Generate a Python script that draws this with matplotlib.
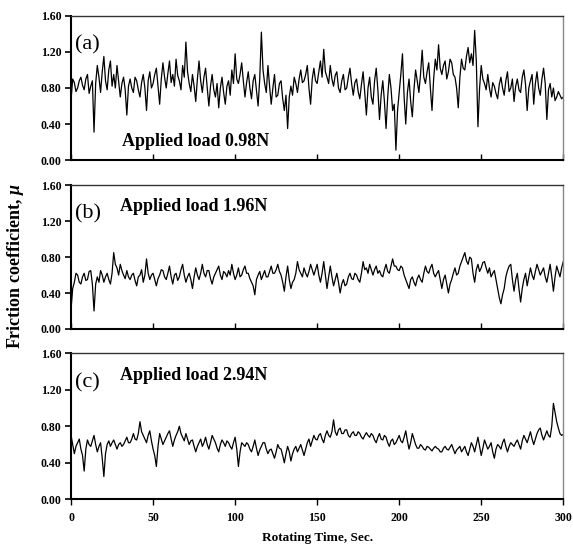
import numpy as np
import matplotlib.pyplot as plt

# friction coefficient traces, read at about 1 s steps from the figure
mu_a = [0.67, 0.90, 0.86, 0.76, 0.80, 0.88, 0.92, 0.83, 0.78, 0.90, 0.95, 0.74, 0.82, 0.88,
        0.31, 0.85,
        1.05, 0.92, 0.75, 0.98, 1.15, 0.88, 0.78, 1.00, 1.10, 0.82, 0.95, 0.80, 1.05, 0.88,
        0.70, 0.85, 0.92, 0.78,
        0.50, 0.82,
        0.90, 0.80, 0.75, 0.92, 0.88, 0.78, 0.70, 0.86, 0.95, 0.80,
        0.55, 0.88,
        0.98, 0.80, 0.85, 0.95, 1.02, 0.82, 0.62, 0.90, 1.08, 0.92, 0.80, 0.96, 1.10, 0.86,
        0.95, 0.82, 1.12, 0.94, 0.88, 0.78, 1.05, 0.92,
        1.31, 0.98,
        0.85, 0.76, 0.95, 0.82, 0.65, 0.90, 1.10, 0.88, 0.75, 0.92, 1.02, 0.80,
        0.60, 0.82, 0.95, 0.78, 0.70, 0.85, 0.58, 0.80, 0.92, 0.75, 0.62, 0.82, 0.88, 0.72,
        1.00, 0.85, 1.18, 0.90, 0.85, 0.95, 1.08, 0.88, 0.70, 0.86, 0.98, 0.80, 0.68, 0.88,
        0.95, 0.78, 0.60, 0.90,
        1.42, 1.00,
        0.85, 0.75, 1.05, 0.82, 0.62, 0.80, 0.95, 0.70, 0.72, 0.85, 0.88, 0.68, 0.55, 0.72,
        0.35, 0.70,
        0.82, 0.72, 0.92, 0.85, 0.75, 0.90, 1.00, 0.86, 0.88, 0.95, 1.05, 0.80, 0.62, 0.90,
        1.02, 0.88, 0.85, 0.98, 1.10, 0.92, 1.23, 0.98, 0.92, 0.85,
        1.05, 0.90, 0.82, 0.94, 0.98, 0.80, 0.75, 0.88, 0.95, 0.78, 0.80, 0.92, 1.02, 0.85,
        0.72, 0.86, 0.90, 0.76, 0.68, 0.84,
        0.98, 0.75, 0.50, 0.80, 0.92, 0.70, 0.62, 0.88, 1.02, 0.78, 0.45, 0.72, 0.88, 0.65,
        0.35, 0.70, 0.95, 0.80, 0.55, 0.62,
        0.11, 0.55,
        0.75, 0.95, 1.18, 0.70, 0.40, 0.75, 0.90, 0.65, 0.48, 0.78, 1.00, 0.88, 0.75, 0.95,
        1.22, 0.92, 0.85, 0.98, 1.08, 0.80, 0.55, 0.90, 1.12, 1.00, 1.28, 1.02, 0.95, 1.05,
        1.10, 0.90, 0.98, 1.12, 1.08, 0.95, 0.92, 0.80, 0.58, 0.92, 1.12, 1.02, 1.00, 1.15,
        1.25, 1.08, 1.18, 1.05, 1.44, 1.10, 0.37, 0.80, 1.05, 0.90,
        0.85, 0.78, 0.95, 0.80, 0.70, 0.86, 0.82, 0.74, 0.68, 0.84, 0.92, 0.80, 0.72, 0.88,
        0.98, 0.76, 0.80, 0.90, 0.65, 0.82, 0.90, 0.78, 0.75, 0.92, 1.00, 0.84, 0.55, 0.80,
        0.88, 0.95, 0.62, 0.85, 0.98, 0.80, 0.72, 0.90, 1.02, 0.85, 0.45, 0.78, 0.85, 0.70,
        0.80, 0.66, 0.70, 0.76, 0.72, 0.68, 0.70]

mu_b = [0.22, 0.45, 0.52, 0.62, 0.60, 0.52, 0.50, 0.58, 0.62, 0.54, 0.55, 0.64, 0.65, 0.50,
        0.20, 0.50, 0.58, 0.52, 0.65, 0.60, 0.52, 0.58, 0.62, 0.55, 0.50, 0.62, 0.85, 0.72,
        0.68, 0.60, 0.72, 0.65, 0.60, 0.56, 0.65, 0.58, 0.55, 0.60, 0.62, 0.54, 0.48, 0.58,
        0.60, 0.66, 0.52, 0.60, 0.78, 0.62, 0.55, 0.60, 0.62, 0.55, 0.48, 0.56, 0.60, 0.66,
        0.65, 0.58, 0.55, 0.62, 0.70, 0.58, 0.50, 0.60, 0.62, 0.54, 0.58, 0.66, 0.72, 0.60,
        0.52, 0.58, 0.62, 0.55, 0.45, 0.58, 0.68, 0.60, 0.55, 0.62, 0.72, 0.62, 0.58, 0.65,
        0.65, 0.56, 0.50, 0.58, 0.62, 0.66, 0.70, 0.60, 0.55, 0.64, 0.62, 0.58,
        0.65, 0.60, 0.72, 0.62, 0.55, 0.60, 0.68, 0.58, 0.60, 0.66, 0.70, 0.62, 0.62, 0.56,
        0.52, 0.48, 0.38, 0.55, 0.60, 0.64, 0.55, 0.60, 0.65, 0.58, 0.58, 0.64, 0.70, 0.62,
        0.62, 0.66, 0.72, 0.64, 0.60, 0.52, 0.42, 0.58, 0.70, 0.55, 0.45, 0.52, 0.55, 0.62,
        0.75, 0.66, 0.62, 0.58, 0.68, 0.62, 0.58, 0.64, 0.72, 0.66, 0.60, 0.66, 0.72, 0.60,
        0.52, 0.62, 0.75, 0.60, 0.45, 0.58, 0.70, 0.58, 0.48, 0.55, 0.62, 0.52, 0.40, 0.50,
        0.55, 0.48, 0.50, 0.58, 0.62, 0.56, 0.55, 0.62, 0.60, 0.55, 0.52, 0.62, 0.75, 0.66,
        0.68, 0.62, 0.72, 0.66, 0.60, 0.66, 0.70, 0.62, 0.65, 0.60, 0.58, 0.66, 0.72, 0.64,
        0.62, 0.70, 0.78, 0.70, 0.70, 0.66,
        0.65, 0.70, 0.68, 0.60, 0.55, 0.50, 0.45, 0.55, 0.58, 0.52, 0.48, 0.56, 0.60, 0.55,
        0.52, 0.62, 0.70, 0.64, 0.62, 0.68, 0.72, 0.62, 0.58, 0.62, 0.65, 0.55, 0.45, 0.55,
        0.60, 0.50, 0.40, 0.50, 0.55, 0.62, 0.68, 0.60, 0.62, 0.70, 0.75, 0.80, 0.85, 0.76,
        0.72, 0.80, 0.78, 0.62, 0.52, 0.66, 0.72, 0.64, 0.68, 0.74, 0.75, 0.68, 0.62, 0.68,
        0.58, 0.62, 0.65, 0.55, 0.45, 0.35, 0.28, 0.38, 0.45, 0.58, 0.65, 0.70, 0.72, 0.55,
        0.42, 0.55, 0.62, 0.45, 0.30, 0.45, 0.55, 0.62, 0.48, 0.58, 0.68, 0.60, 0.55, 0.64,
        0.72, 0.66, 0.60, 0.64, 0.68, 0.58, 0.52, 0.62, 0.72, 0.58, 0.42, 0.58, 0.70, 0.64,
        0.58, 0.68, 0.75]

mu_c = [0.70, 0.60, 0.50, 0.58, 0.62, 0.66, 0.55, 0.48, 0.31, 0.55, 0.65, 0.60, 0.58, 0.64,
        0.70, 0.60, 0.52, 0.58, 0.62, 0.45, 0.25, 0.50, 0.60, 0.64, 0.58, 0.62, 0.65, 0.60,
        0.55, 0.60, 0.62, 0.58, 0.60, 0.64, 0.68, 0.62, 0.62, 0.66, 0.72, 0.66, 0.65, 0.72,
        0.85, 0.74, 0.70, 0.66, 0.62, 0.70, 0.75, 0.64, 0.55, 0.48, 0.36, 0.58, 0.72, 0.66,
        0.60, 0.64, 0.68, 0.72, 0.75, 0.66, 0.58, 0.65, 0.70, 0.74, 0.80, 0.72, 0.68, 0.64,
        0.72, 0.66, 0.60, 0.64, 0.65, 0.58, 0.52, 0.58, 0.62, 0.66, 0.58, 0.62, 0.68, 0.60,
        0.55, 0.62, 0.70, 0.66, 0.62, 0.56, 0.52, 0.60, 0.65, 0.62, 0.58, 0.64,
        0.62, 0.58, 0.55, 0.62, 0.68, 0.55, 0.36, 0.52, 0.62, 0.60, 0.58, 0.62, 0.60, 0.55,
        0.52, 0.58, 0.65, 0.56, 0.48, 0.54, 0.58, 0.62, 0.62, 0.55, 0.50, 0.54, 0.55, 0.50,
        0.45, 0.52, 0.60, 0.56, 0.55, 0.48, 0.40, 0.50, 0.58, 0.52, 0.42, 0.50, 0.55, 0.58,
        0.52, 0.56, 0.60, 0.54, 0.48, 0.55, 0.62, 0.66, 0.58, 0.64, 0.70, 0.66, 0.65, 0.70,
        0.72, 0.66, 0.62, 0.70, 0.75, 0.70, 0.68, 0.74, 0.87, 0.74, 0.70, 0.76, 0.78, 0.72,
        0.72, 0.76, 0.76, 0.70, 0.68, 0.72, 0.74, 0.70, 0.70, 0.74, 0.72, 0.68, 0.66, 0.70,
        0.73, 0.70, 0.68, 0.72, 0.70, 0.65, 0.62, 0.68, 0.72, 0.66, 0.65, 0.70, 0.68, 0.62,
        0.58, 0.64, 0.66, 0.60, 0.62, 0.66,
        0.70, 0.64, 0.62, 0.68, 0.75, 0.64, 0.55, 0.62, 0.72, 0.66, 0.60, 0.56, 0.56, 0.60,
        0.58, 0.55, 0.54, 0.58, 0.57, 0.55, 0.53, 0.56, 0.58, 0.56, 0.55, 0.52, 0.52, 0.56,
        0.58, 0.55, 0.54, 0.57, 0.60, 0.55, 0.50, 0.54, 0.56, 0.58, 0.52, 0.55, 0.58, 0.52,
        0.48, 0.55, 0.62, 0.58, 0.52, 0.60, 0.68, 0.58, 0.48, 0.56, 0.65, 0.60, 0.55, 0.58,
        0.62, 0.52, 0.45, 0.55, 0.60, 0.58, 0.55, 0.62, 0.66, 0.58, 0.52, 0.58, 0.62, 0.60,
        0.58, 0.62, 0.65, 0.60, 0.55, 0.64, 0.70, 0.66, 0.62, 0.68, 0.74, 0.66, 0.60, 0.66,
        0.72, 0.76, 0.78, 0.70, 0.65, 0.70, 0.75, 0.70, 0.68, 0.80, 1.05, 0.95, 0.85, 0.78,
        0.72, 0.70, 0.71]

labels = ["(a)", "(b)", "(c)"]
loads = ["Applied load 0.98N", "Applied load 1.96N", "Applied load 2.94N"]
yticks = [0.0, 0.4, 0.8, 1.2, 1.6]
xticks = [0, 50, 100, 150, 200, 250, 300]

plt.rcParams['font.family'] = 'Liberation Serif'
plt.rcParams['mathtext.fontset'] = 'custom'
plt.rcParams['mathtext.it'] = 'Liberation Serif:italic:bold'

fig = plt.figure(figsize=(5.73, 5.5), dpi=100)
# [left, bottom, width, height] in figure fractions
boxes = [[0.124, 0.709, 0.859, 0.262],
         [0.124, 0.402, 0.859, 0.261],
         [0.124, 0.092, 0.859, 0.266]]
series = [mu_a, mu_b, mu_c]

for k, (box, mu) in enumerate(zip(boxes, series)):
    ax = fig.add_axes(box)
    t = np.linspace(0, 300, len(mu))
    ax.plot(t, mu, color='black', lw=0.9)
    ax.set_xlim(0, 300)
    ax.set_ylim(0, 1.6)
    ax.set_yticks(yticks)
    ax.set_yticklabels(["%.2f" % v for v in yticks], fontweight='bold', fontsize=8.5)
    ax.set_xticks(xticks)
    ax.spines['left'].set_linewidth(1.5)
    ax.spines['bottom'].set_linewidth(1.5)
    ax.spines['top'].set_color('#333333')
    ax.spines['right'].set_color('#888888')
    ax.spines['top'].set_linewidth(1.0)
    ax.spines['right'].set_linewidth(1.0)
    ax.tick_params(axis='y', direction='out', length=4, width=1.2, pad=3)
    if k < 2:
        ax.tick_params(axis='x', direction='in', length=4, width=1.0, labelbottom=False)
    else:
        ax.tick_params(axis='x', direction='out', length=4, width=1.0, pad=5)
        ax.set_xticklabels([str(v) for v in xticks], fontweight='bold', fontsize=8.5)
        ax.set_xlabel("Rotating Time, Sec.", fontweight='bold', fontsize=9.5, labelpad=6)
    ax.text(0.008, 0.80, labels[k], transform=ax.transAxes, fontsize=16,
            va='center', ha='left')
    if k == 0:
        ax.text(0.104, 0.13, loads[k], transform=ax.transAxes, fontsize=13,
                fontweight='bold', va='center', ha='left')
    else:
        ax.text(0.100, 0.85, loads[k], transform=ax.transAxes, fontsize=13,
                fontweight='bold', va='center', ha='left')

fig.text(0.027, 0.516, r"Friction coefficient, $\mu$", rotation=90, fontsize=13,
         fontweight='bold', va='center', ha='center')

fig.savefig("out.png", dpi=100)
